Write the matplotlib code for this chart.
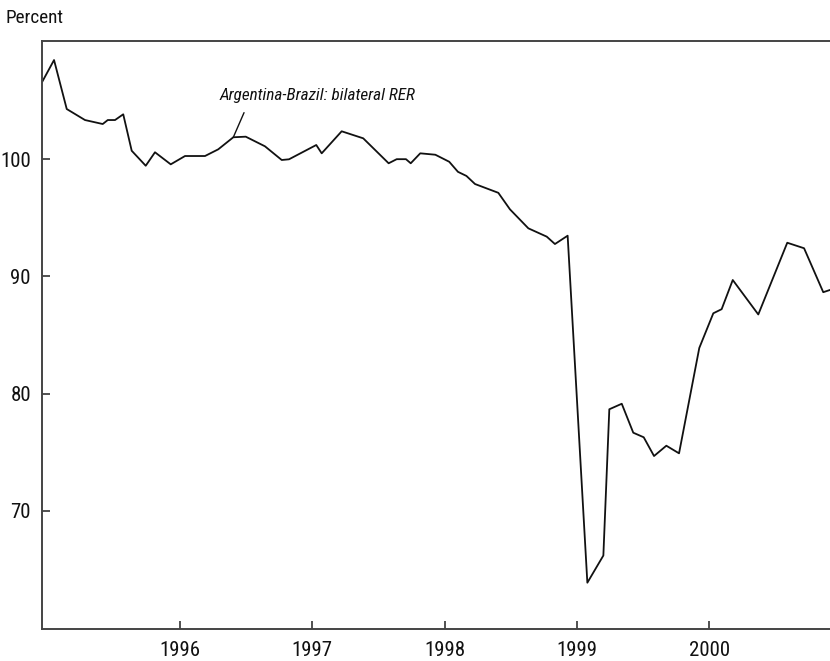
import matplotlib
matplotlib.use("Agg")
import matplotlib.pyplot as plt
from matplotlib import font_manager

# -------- Données --------
years = [1994.959, 1995.048, 1995.144, 1995.282, 1995.416, 1995.454, 1995.509,
         1995.571, 1995.635, 1995.741, 1995.811, 1995.930, 1996.038, 1996.189,
         1996.289, 1996.403, 1996.497, 1996.642, 1996.769, 1996.824, 1997.030,
         1997.071, 1997.222, 1997.385, 1997.577, 1997.638, 1997.708, 1997.744,
         1997.816, 1997.930, 1998.035, 1998.101, 1998.165, 1998.230, 1998.406,
         1998.494, 1998.633, 1998.772, 1998.834, 1998.930, 1999.079, 1999.200,
         1999.245, 1999.339, 1999.426, 1999.505, 1999.583, 1999.676, 1999.772,
         1999.925, 2000.031, 2000.094, 2000.178, 2000.371, 2000.590, 2000.717,
         2000.862, 2000.913]
rer = [106.62, 108.47, 104.29, 103.35, 103.01, 103.35, 103.35,
       103.84, 100.73, 99.45, 100.60, 99.57, 100.28, 100.28,
       100.85, 101.88, 101.93, 101.11, 99.94, 100.00, 101.22,
       100.51, 102.39, 101.79, 99.66, 100.01, 100.01, 99.66,
       100.51, 100.39, 99.79, 98.93, 98.58, 97.89, 97.14,
       95.73, 94.11, 93.40, 92.77, 93.48, 63.87, 66.19,
       78.67, 79.14, 76.67, 76.28, 74.68, 75.56, 74.91,
       83.90, 86.86, 87.21, 89.70, 86.76, 92.88, 92.41,
       88.66, 88.85]

year_ticks = [1996, 1997, 1998, 1999, 2000]
value_ticks = [70, 80, 90, 100]
series_label = "Argentina-Brazil: bilateral RER"
label_point = 15  # point de la série relié à l'étiquette

# -------- Police étroite (type Myriad Condensed) si disponible --------
fonts = font_manager.fontManager.ttflist
names = {f.name for f in fonts}
if 'Liberation Sans Narrow' in names:
    plt.rcParams['font.family'] = ['Liberation Sans Narrow', 'DejaVu Sans']
elif 'Roboto Condensed' in names:
    plt.rcParams['font.family'] = ['Roboto Condensed', 'DejaVu Sans']
elif any(f.name == 'DejaVu Sans' and f.stretch == 'condensed' for f in fonts):
    plt.rcParams['font.family'] = ['DejaVu Sans']
    plt.rcParams['font.stretch'] = 'condensed'
else:
    plt.rcParams['font.family'] = ['Roboto', 'DejaVu Sans']

# -------- Figure --------
fig = plt.figure(figsize=(8.30, 6.61), dpi=100)
ax = fig.add_axes([42 / 830, 32 / 661, 788 / 830, 588.3 / 661])

ax.plot(years, rer, color="#111111", linewidth=1.3)

ax.set_xlim(1994.957, 2000.913)
ax.set_ylim(59.92, 110.12)
ax.set_xticks(year_ticks)
ax.set_xticklabels([str(y) for y in year_ticks])
ax.set_yticks(value_ticks)

ax.spines['right'].set_visible(False)
for side in ['left', 'top', 'bottom']:
    ax.spines[side].set_color("#444444")
    ax.spines[side].set_linewidth(1.4)

ax.tick_params(axis='both', direction='in', length=6, width=1.2,
               color="#333333", labelsize=15, labelcolor="#111111")
ax.tick_params(axis='x', pad=9)
ax.tick_params(axis='y', pad=8)

# étiquette de la série
ax.text(1996.302, 105.10, series_label, style='italic', fontsize=12.3,
        color="#111111", ha='left', va='baseline')
ax.annotate("", xy=(years[label_point], rer[label_point]),
            xytext=(1996.484, 103.98),
            arrowprops=dict(arrowstyle='-', color="#111111", linewidth=1.0,
                            shrinkA=0, shrinkB=0))

fig.text(5 / 830, 1 - 22.7 / 661, "Percent", fontsize=13.8, color="#111111",
         ha='left', va='baseline')

fig.savefig("out.png", dpi=100)
